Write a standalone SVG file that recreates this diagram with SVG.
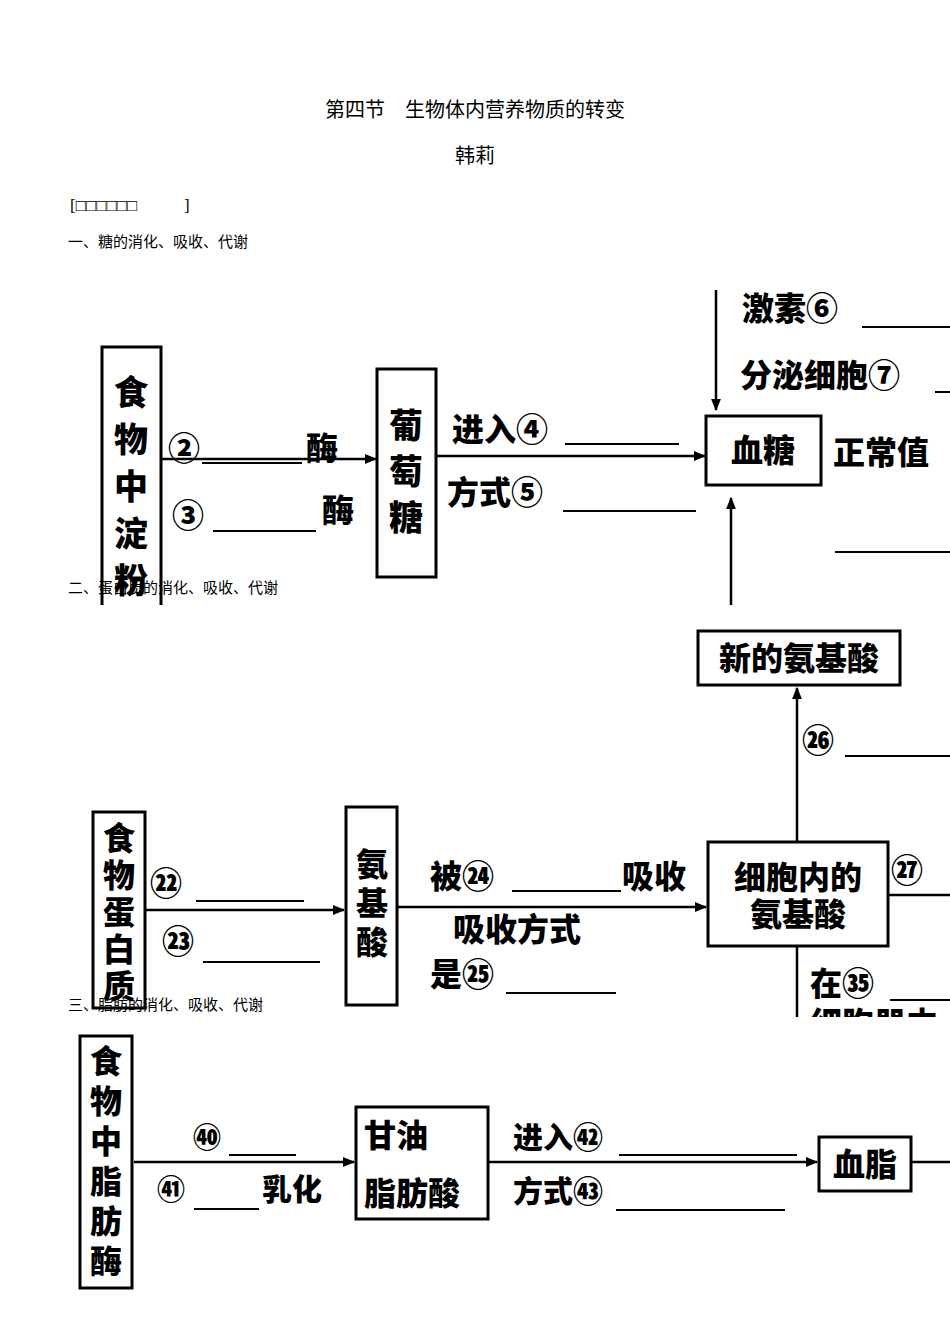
<svg xmlns="http://www.w3.org/2000/svg" width="950" height="1344" viewBox="0 0 950 1344">
<style>
.t{font-family:"Liberation Serif","Noto Sans CJK SC",serif;fill:#000}
.b{font-family:"Noto Sans CJK SC",sans-serif;font-weight:900;fill:#000}
.box{fill:#fff;stroke:#000;stroke-width:3}
.ln{stroke:#000;stroke-width:2.5;fill:none}
.bl{stroke:#000;stroke-width:2;fill:none}
</style>
<defs>
<marker id="a" viewBox="0 0 10 10" refX="9" refY="5" markerWidth="5" markerHeight="5" orient="auto"><path d="M0,1 L10,5 L0,9 Z" fill="#000"/></marker>
<clipPath id="c1"><rect x="0" y="270" width="950" height="335"/></clipPath>
<clipPath id="c2"><rect x="0" y="605" width="950" height="412"/></clipPath>
</defs>
<rect width="950" height="1344" fill="#fff"/>
<text class="t" x="475" y="117" font-size="20" text-anchor="middle">第四节　生物体内营养物质的转变</text>
<text class="t" x="475" y="163" font-size="20" text-anchor="middle">韩莉</text>
<text class="t" x="70" y="211" font-size="17">[□□□□□□</text>
<text class="t" x="184" y="211" font-size="17">]</text>
<text class="t" x="68" y="247" font-size="15">一、糖的消化、吸收、代谢</text>

<g clip-path="url(#c1)">
<g id="connectors1">
<line class="ln" x1="162" y1="459" x2="376" y2="459" marker-end="url(#a)"/>
<line class="ln" x1="437" y1="456" x2="705" y2="456" marker-end="url(#a)"/>
<line class="ln" x1="716" y1="290" x2="716" y2="410" marker-end="url(#a)"/>
<line class="ln" x1="731" y1="610" x2="731" y2="498" marker-end="url(#a)"/>
<line class="bl" x1="202" y1="463" x2="302" y2="463"/>
<line class="bl" x1="213" y1="531" x2="316" y2="531"/>
<line class="bl" x1="565" y1="444" x2="679" y2="444"/>
<line class="bl" x1="563" y1="511" x2="696" y2="511"/>
<line class="bl" x1="862" y1="327" x2="950" y2="327"/>
<line class="bl" x1="935" y1="392" x2="950" y2="392"/>
<line class="bl" x1="835" y1="552" x2="950" y2="552"/>
</g>
<g id="food-starch"><rect class="box" x="102" y="347" width="59" height="280"/>
<text class="b" font-size="34" x="131" text-anchor="middle"><tspan x="131" y="405">食</tspan><tspan x="131" y="452">物</tspan><tspan x="131" y="499">中</tspan><tspan x="131" y="546">淀</tspan><tspan x="131" y="593">粉</tspan></text></g>
<g id="glucose"><rect class="box" x="377" y="369" width="59" height="208"/>
<text class="b" font-size="34" x="406" text-anchor="middle"><tspan x="406" y="438">葡</tspan><tspan x="406" y="484">萄</tspan><tspan x="406" y="530">糖</tspan></text></g>
<g id="blood-sugar"><rect class="box" x="706" y="416" width="115" height="69"/>
<text class="b" font-size="32" x="763" y="462" text-anchor="middle">血糖</text></g>
<text class="b" font-size="32" x="168" y="460">②</text><text class="b" font-size="32" x="306" y="460">酶</text>
<text class="b" font-size="32" x="172" y="527">③</text><text class="b" font-size="32" x="322" y="522">酶</text>
<text class="b" font-size="32" x="452" y="441">进入④</text>
<text class="b" font-size="32" x="447" y="504">方式⑤</text>
<text class="b" font-size="32" x="742" y="320">激素⑥</text>
<text class="b" font-size="32" x="740" y="387">分泌细胞⑦</text>
<text class="b" font-size="32" x="833" y="464">正常值</text>
</g>

<text class="t" x="68" y="593" font-size="15">二、蛋白质的消化、吸收、代谢</text>

<g clip-path="url(#c2)">
<g id="connectors2">
<line class="ln" x1="146" y1="910" x2="344" y2="910" marker-end="url(#a)"/>
<line class="ln" x1="398" y1="907" x2="706" y2="907" marker-end="url(#a)"/>
<line class="ln" x1="797" y1="842" x2="797" y2="688" marker-end="url(#a)"/>
<line class="ln" x1="888" y1="895" x2="950" y2="895"/>
<line class="ln" x1="797" y1="946" x2="797" y2="1020"/>
<line class="bl" x1="196" y1="901" x2="304" y2="901"/>
<line class="bl" x1="203" y1="962" x2="320" y2="962"/>
<line class="bl" x1="512" y1="891" x2="621" y2="891"/>
<line class="bl" x1="506" y1="993" x2="616" y2="993"/>
<line class="bl" x1="845" y1="756" x2="950" y2="756"/>
<line class="bl" x1="890" y1="1000" x2="950" y2="1000"/>
</g>
<g id="new-aa"><rect class="box" x="698" y="631" width="202" height="54"/>
<text class="b" font-size="32" x="799" y="670" text-anchor="middle">新的氨基酸</text></g>
<g id="cell-aa"><rect class="box" x="708" y="842" width="180" height="104"/>
<text class="b" font-size="32" x="798" y="889" text-anchor="middle">细胞内的</text>
<text class="b" font-size="32" x="798" y="926" text-anchor="middle">氨基酸</text></g>
<g id="food-protein"><rect class="box" x="93" y="812" width="52" height="196"/>
<text class="b" font-size="32" x="119" text-anchor="middle"><tspan x="119" y="850">食</tspan><tspan x="119" y="887">物</tspan><tspan x="119" y="924">蛋</tspan><tspan x="119" y="961">白</tspan><tspan x="119" y="998">质</tspan></text></g>
<g id="amino-acid"><rect class="box" x="346" y="807" width="51" height="198"/>
<text class="b" font-size="32" x="372" text-anchor="middle"><tspan x="372" y="876">氨</tspan><tspan x="372" y="915">基</tspan><tspan x="372" y="954">酸</tspan></text></g>
<text class="b" font-size="32" x="150" y="895">㉒</text>
<text class="b" font-size="32" x="162" y="953">㉓</text>
<text class="b" font-size="32" x="430" y="888">被㉔</text>
<text class="b" font-size="32" x="622" y="888">吸收</text>
<text class="b" font-size="32" x="453" y="941">吸收方式</text>
<text class="b" font-size="32" x="430" y="986">是㉕</text>
<text class="b" font-size="32" x="802" y="752">㉖</text>
<text class="b" font-size="32" x="891" y="882">㉗</text>
<text class="b" font-size="32" x="810" y="995">在㉟</text>
<text class="b" font-size="32" x="810" y="1035">细胞器内</text>
</g>

<text class="t" x="68" y="1010" font-size="15">三、脂肪的消化、吸收、代谢</text>

<g id="connectors3">
<line class="ln" x1="134" y1="1162" x2="354" y2="1162" marker-end="url(#a)"/>
<line class="ln" x1="489" y1="1162" x2="817" y2="1162" marker-end="url(#a)"/>
<line class="ln" x1="912" y1="1162" x2="950" y2="1162"/>
<line class="bl" x1="229" y1="1155" x2="296" y2="1155"/>
<line class="bl" x1="194" y1="1209" x2="259" y2="1209"/>
<line class="bl" x1="619" y1="1155" x2="797" y2="1155"/>
<line class="bl" x1="616" y1="1210" x2="785" y2="1210"/>
</g>
<g id="food-fat"><rect class="box" x="80" y="1036" width="52" height="252"/>
<text class="b" font-size="32" x="106" text-anchor="middle"><tspan x="106" y="1073">食</tspan><tspan x="106" y="1113">物</tspan><tspan x="106" y="1153">中</tspan><tspan x="106" y="1193">脂</tspan><tspan x="106" y="1233">肪</tspan><tspan x="106" y="1273">酶</tspan></text></g>
<g id="glycerol"><rect class="box" x="356" y="1107" width="132" height="112"/>
<text class="b" font-size="32" x="364" y="1147" font-weight="500">甘油</text>
<text class="b" font-size="32" x="364" y="1205" font-weight="500">脂肪酸</text></g>
<g id="blood-lipid"><rect class="box" x="819" y="1137" width="92" height="54"/>
<text class="b" font-size="32" x="865" y="1176" text-anchor="middle" font-weight="500">血脂</text></g>
<text class="b" font-size="28" x="193" y="1148">㊵</text>
<text class="b" font-size="28" x="157" y="1200">㊶</text>
<text class="b" font-size="30" x="262" y="1200">乳化</text>
<text class="b" font-size="30" x="513" y="1148">进入㊷</text>
<text class="b" font-size="30" x="513" y="1202">方式㊸</text>
</svg>
